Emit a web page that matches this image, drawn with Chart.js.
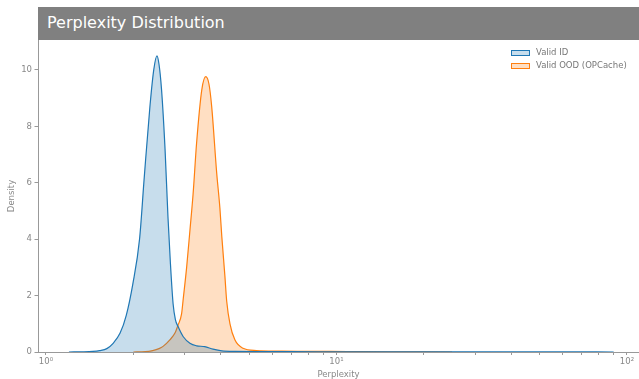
<!DOCTYPE html>
<html>
<head>
<meta charset="utf-8">
<script src="https://cdn.jsdelivr.net/npm/chart.js@4.4.1/dist/chart.umd.min.js"></script>
<style>
  body { margin: 0; background: #fff; }
  #wrap { position: relative; width: 639px; height: 379px; font-family: "DejaVu Sans", sans-serif; }
  #title {
    position: absolute; left: 38px; top: 7px; width: 601px; height: 33px;
    background: #808080; color: #fff; font-size: 16px; line-height: 31px;
    padding-left: 9px; box-sizing: border-box;
  }
  .leg { position: absolute; left: 511px; font-size: 8.5px; color: #777; height: 13px; line-height: 13px; white-space: nowrap; }
  .leg span { display: inline-block; width: 19px; height: 6px; box-sizing: border-box; margin-right: 6px; vertical-align: -0.5px; }
</style>
</head>
<body>
<div id="wrap">
  <canvas id="myChart"></canvas>
  <div id="title">Perplexity Distribution</div>
  <div class="leg" style="top:46px"><span style="border:1px solid #1f77b4;background:rgba(31,119,180,0.25)"></span>Valid ID</div>
  <div class="leg" style="top:59px"><span style="border:1px solid #ff7f0e;background:rgba(255,127,14,0.25)"></span>Valid OOD (OPCache)</div>
</div>
<script>
// density curves (x = perplexity)
const idX = [1.2, 1.35, 1.45, 1.53, 1.62, 1.70, 1.80, 1.89, 1.99, 2.10, 2.18, 2.28, 2.35, 2.41, 2.45, 2.50, 2.57, 2.63, 2.68, 2.74, 2.79, 2.85, 2.97, 3.13, 3.30, 3.52, 3.76, 4.03, 4.5, 5.5, 7, 10, 20, 40, 70, 90];
const idDensity = [0, 0.005, 0.02, 0.05, 0.12, 0.3, 0.67, 1.3, 2.4, 4.0, 6.2, 8.7, 10.0, 10.5, 10.2, 9.3, 7.2, 4.8, 3.2, 1.7, 1.15, 0.9, 0.54, 0.31, 0.22, 0.19, 0.1, 0.04, 0.02, 0.015, 0.01, 0.008, 0.005, 0.004, 0.003, 0];

const oodX = [2.0, 2.2, 2.33, 2.45, 2.53, 2.67, 2.78, 2.85, 2.93, 2.97, 3.05, 3.13, 3.21, 3.30, 3.44, 3.55, 3.64, 3.72, 3.87, 3.97, 4.03, 4.13, 4.19, 4.30, 4.47, 4.77, 5.3, 6.4, 8, 9.5, 12, 16, 25];
const oodDensity = [0, 0.01, 0.05, 0.12, 0.2, 0.43, 0.67, 0.96, 1.35, 1.9, 3.0, 4.3, 5.6, 7.4, 9.3, 9.76, 9.5, 8.7, 6.35, 5.1, 4.1, 2.7, 1.8, 1.0, 0.43, 0.13, 0.05, 0.03, 0.02, 0.02, 0.01, 0.005, 0];

const seriesNames = ['Valid ID', 'Valid OOD (OPCache)'];
const xDecades = [1, 10, 100];
const xDecadeLabels = ['10\u2070', '10\u00b9', '10\u00b2'];
const yTicks = [0, 2, 4, 6, 8, 10];

const xTickValues = [];
[1, 10].forEach(d => { for (let k = 1; k < 10; k++) xTickValues.push(d * k); });
xTickValues.push(100);

const toPoints = (xs, ys) => xs.map((x, i) => ({ x: x, y: ys[i] }));
const gray = '#888';
const font = { family: 'DejaVu Sans', size: 8.5 };

new Chart(document.getElementById('myChart').getContext('2d'), {
  type: 'line',
  data: {
    datasets: [
      {
        label: seriesNames[0],
        data: toPoints(idX, idDensity),
        borderColor: '#1f77b4',
        backgroundColor: 'rgba(31,119,180,0.25)',
        fill: 'origin'
      },
      {
        label: seriesNames[1],
        data: toPoints(oodX, oodDensity),
        borderColor: '#ff7f0e',
        backgroundColor: 'rgba(255,127,14,0.25)',
        fill: 'origin'
      }
    ]
  },
  options: {
    responsive: true,
    maintainAspectRatio: false,
    animation: false,
    layout: { padding: { top: 40, left: 0, right: 0, bottom: 0 } },
    elements: {
      point: { radius: 0 },
      line: { borderWidth: 1.2, tension: 0.4, cubicInterpolationMode: 'monotone' }
    },
    plugins: { legend: { display: false }, tooltip: { enabled: false } },
    scales: {
      x: {
        type: 'logarithmic',
        min: 0.939,
        max: 110,
        afterBuildTicks: s => { s.ticks = xTickValues.map(v => ({ value: v })); },
        afterFit: s => { s.height = 27; },
        ticks: {
          autoSkip: false, maxRotation: 0, color: gray, font: font, padding: 2,
          callback: v => { const i = xDecades.indexOf(v); return i >= 0 ? xDecadeLabels[i] : ''; }
        },
        grid: { drawOnChartArea: false, tickLength: 3, tickColor: '#999' },
        border: { color: '#999' },
        title: { display: true, text: 'Perplexity', color: gray, font: font, padding: { top: 0, bottom: -1 } }
      },
      y: {
        min: 0,
        max: 11.06,
        afterBuildTicks: s => { s.ticks = yTicks.map(v => ({ value: v })); },
        afterFit: s => { s.width = 38; },
        ticks: { color: gray, font: font, padding: 2.5 },
        grid: { drawOnChartArea: false, tickLength: 3.5, tickColor: '#999' },
        border: { color: '#999' },
        title: { display: true, text: 'Density', color: gray, font: font, padding: { top: 7, bottom: 0 } }
      }
    }
  }
});
</script>
</body>
</html>
